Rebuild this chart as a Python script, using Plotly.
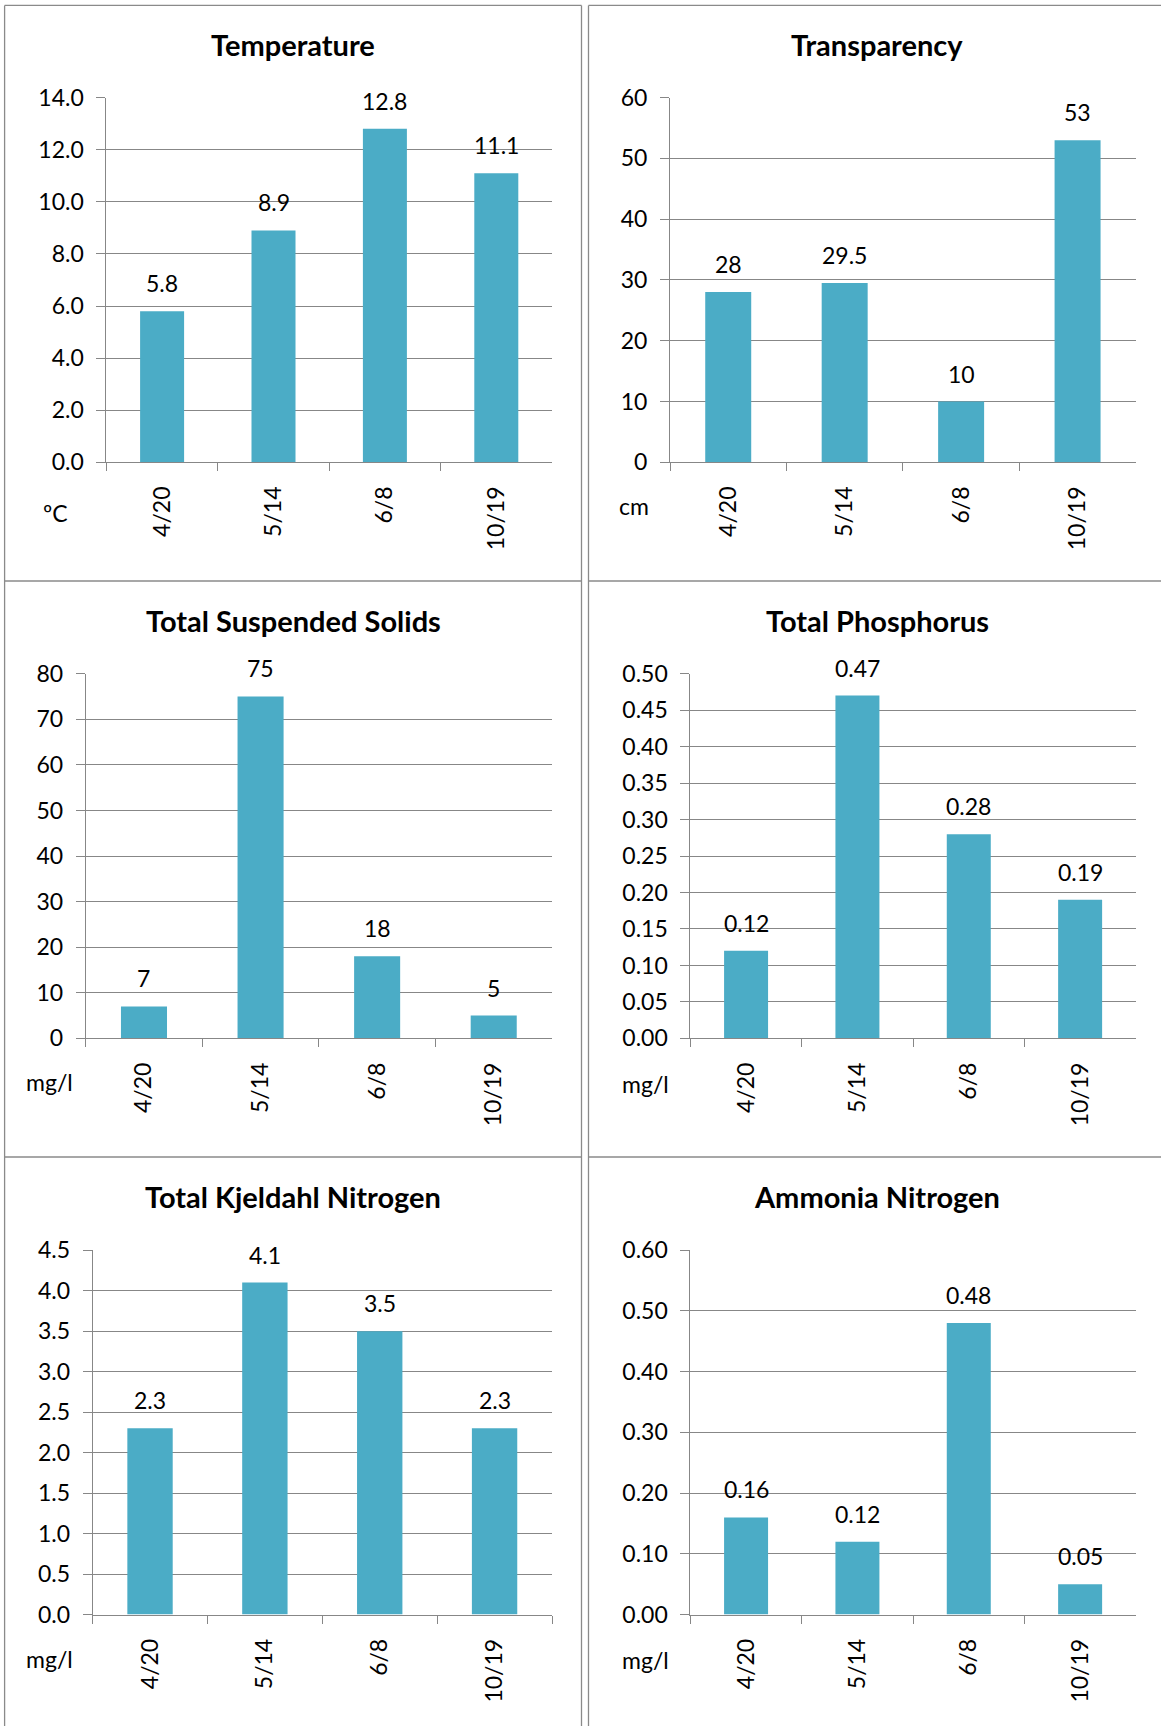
import plotly.graph_objects as go

# ---- data -------------------------------------------------------------
dates = ["4/20", "5/14", "6/8", "10/19"]

temperature = [5.8, 8.9, 12.8, 11.1]
transparency = [28, 29.5, 10, 53]
suspended_solids = [7, 75, 18, 5]
phosphorus = [0.12, 0.47, 0.28, 0.19]
kjeldahl_nitrogen = [2.3, 4.1, 3.5, 2.3]
ammonia_nitrogen = [0.16, 0.12, 0.48, 0.05]

titles = ["Temperature", "Transparency", "Total Suspended Solids",
          "Total Phosphorus", "Total Kjeldahl Nitrogen", "Ammonia Nitrogen"]
units = ["ºC", "cm", "mg/l", "mg/l", "mg/l", "mg/l"]

series = [temperature, transparency, suspended_solids,
          phosphorus, kjeldahl_nitrogen, ammonia_nitrogen]

# ---- styling / layout -------------------------------------------------
W, H = 1161, 1726
FONT = "Lato, 'Open Sans', sans-serif"
BAR = "#4BACC6"
GRID = "#878787"
FRAME = "#8a8a8a"

y_max = [14, 60, 80, 0.5, 4.5, 0.6]
y_step = [2, 10, 10, 0.05, 0.5, 0.1]
tick_fmt = [".1f", "d", "d", ".2f", ".1f", ".2f"]
label_fmt = [".1f", "g", "g", ".2f", ".1f", ".2f"]

# plot areas in pixels: left, right, top, bottom
plot_boxes = [
    (106.4, 552.0, 97.6, 462.3),
    (670.0, 1135.8, 97.6, 462.3),
    (85.7, 552.0, 673.7, 1038.4),
    (690.4, 1135.8, 673.7, 1038.4),
    (92.6, 552.0, 1250.2, 1614.6),
    (690.4, 1135.8, 1250.2, 1614.6),
]
col_frames = [(4.6, 581.5), (588.5, 1175.0)]
row_tops = [5.4, 581.0, 1157.0]
title_cx = [293.0, 877.0]
unit_cx = [55.5, 634.0, 49.0, 645.0, 49.0, 645.0]
unit_dy = [51, 44, 44, 46, 44, 45]


def fx(p):
    return p / W


def fy(p):
    return 1 - p / H


fig = go.Figure()
annotations = []
shapes = []
layout = {}

for i, vals in enumerate(series):
    n = i + 1
    sfx = "" if n == 1 else str(n)
    l, r, t, b = plot_boxes[i]

    fig.add_trace(go.Bar(
        x=dates, y=vals, xaxis="x" + sfx, yaxis="y" + sfx,
        marker=dict(color=BAR, line=dict(width=0)),
        showlegend=False, hoverinfo="x+y",
    ))

    layout["xaxis" + sfx] = dict(
        domain=[fx(l), fx(r)], anchor="y" + sfx, type="category",
        range=[-0.5, 3.5], showgrid=False, zeroline=False,
        automargin=False,
        showline=True, linecolor=GRID, linewidth=1,
        ticks="outside", tickson="boundaries", ticklen=8,
        tickcolor=GRID, tickwidth=1, tickangle=-90,
        ticklabelstandoff=14,
        tickfont=dict(family=FONT, size=23, color="#000000"),
    )
    layout["yaxis" + sfx] = dict(
        domain=[fy(b), fy(t)], anchor="x" + sfx,
        range=[0, y_max[i] * (1 + 1e-9)], tick0=0, dtick=y_step[i],
        tickformat=tick_fmt[i], showgrid=True, gridcolor=GRID,
        automargin=False,
        gridwidth=1, zeroline=False, showline=True, linecolor=GRID,
        linewidth=1, ticks="outside", ticklen=9, tickcolor=GRID,
        tickwidth=1, ticklabelstandoff=8,
        tickfont=dict(family=FONT, size=23, color="#000000"),
    )

    # value labels above each bar
    for d, v in zip(dates, vals):
        annotations.append(dict(
            x=d, y=v, xref="x" + sfx, yref="y" + sfx,
            text=format(v, label_fmt[i]), showarrow=False,
            xanchor="center", yanchor="bottom", yshift=12,
            font=dict(family=FONT, size=23, color="#000000"),
        ))

    # chart title
    col = i % 2
    row = i // 2
    annotations.append(dict(
        x=fx(title_cx[col]), y=fy(row_tops[row] + 39),
        xref="paper", yref="paper", text="<b>" + titles[i] + "</b>",
        showarrow=False, xanchor="center", yanchor="middle",
        font=dict(family=FONT, size=29, color="#000000"),
    ))

    # unit label under the value axis
    annotations.append(dict(
        x=fx(unit_cx[i]), y=fy(b + unit_dy[i]),
        xref="paper", yref="paper", text=units[i],
        showarrow=False, xanchor="center", yanchor="middle",
        font=dict(family=FONT, size=23, color="#000000"),
    ))

# panel frames
for x0, x1 in col_frames:
    for yt in row_tops:
        shapes.append(dict(type="line", xref="paper", yref="paper",
                           x0=fx(x0), x1=fx(x1), y0=fy(yt), y1=fy(yt),
                           line=dict(color=FRAME, width=1.3)))
for xv in (4.6, 581.5, 588.5):
    shapes.append(dict(type="line", xref="paper", yref="paper",
                       x0=fx(xv), x1=fx(xv), y0=fy(5.4), y1=0,
                       line=dict(color=FRAME, width=1.3)))

fig.update_layout(
    width=W, height=H,
    margin=dict(l=0, r=0, t=0, b=0, autoexpand=False),
    paper_bgcolor="white", plot_bgcolor="white",
    bargap=0.605, showlegend=False,
    annotations=annotations, shapes=shapes,
    **layout,
)

fig.write_html("out.html")
